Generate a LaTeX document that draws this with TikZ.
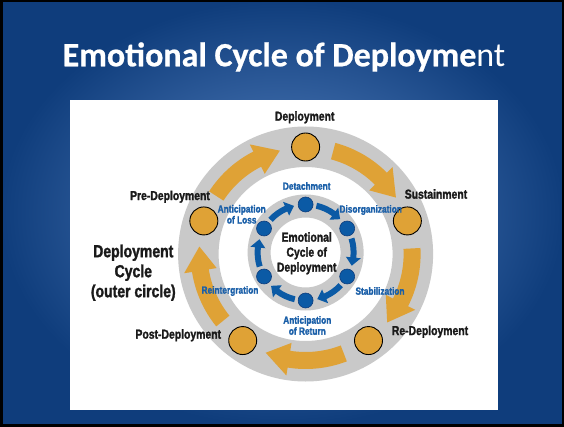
\documentclass[tikz,border=0pt]{standalone}
\usepackage{fontspec}
\setmainfont{Liberation Sans}
\newfontfamily\cond[FakeStretch=0.8,BoldFeatures={FakeBold=1.6}]{Liberation Sans}
\newfontfamily\titlefont[BoldFeatures={FakeBold=0.6}]{Carlito}
\definecolor{bgdark}{HTML}{0F3D7C}
\definecolor{bglight}{HTML}{5A86C4}
\definecolor{ringgray}{HTML}{C9C9C9}
\definecolor{orangefill}{HTML}{DFA236}
\definecolor{bluefill}{HTML}{0B5AA5}
\definecolor{bluetext}{HTML}{1A5FA8}
\definecolor{labelblack}{HTML}{1A1A1A}
\newcommand\bigarrow[1]{%
  \pgfmathsetmacro\aS{#1-15}\pgfmathsetmacro\aB{#1-45}\pgfmathsetmacro\aT{#1-58}%
  \fill[orangefill] (\aS:115pt) arc[start angle=\aS,end angle=\aB,radius=115pt]
    -- (\aB:123pt) -- (\aT:106.5pt) -- (\aB:90pt) -- (\aB:98pt)
    arc[start angle=\aB,end angle=\aS,radius=98pt] -- cycle;}
\newcommand\smallarrow[1]{%
  \pgfmathsetmacro\aS{#1-13}\pgfmathsetmacro\aB{#1-36}\pgfmathsetmacro\aT{#1-46}%
  \fill[bluefill] (\aS:51pt) arc[start angle=\aS,end angle=\aB,radius=51pt]
    -- (\aB:55.5pt) -- (\aT:48pt) -- (\aB:40.5pt) -- (\aB:45pt)
    arc[start angle=\aB,end angle=\aS,radius=45pt] -- cycle;}
\tikzset{
  phase/.style={circle,draw=black,line width=0.9pt,fill=orangefill,minimum size=28pt,inner sep=0pt},
  dot/.style={circle,draw=bgdark,line width=0.6pt,fill=bluefill,minimum size=15pt,inner sep=0pt},
  lab/.style={font=\cond\bfseries\fontsize{13}{15}\selectfont,text=labelblack,inner sep=0pt,align=center},
  bluelab/.style={font=\cond\bfseries\fontsize{10.4}{11}\selectfont,text=bluetext,inner sep=0pt,align=center},
  biglab/.style={font=\cond\bfseries\fontsize{17.5}{20}\selectfont,text=labelblack,inner sep=0pt,align=center},
  centerlab/.style={font=\cond\bfseries\fontsize{13}{15}\selectfont,text=labelblack,inner sep=0pt,align=center},
}
\begin{document}
\begin{tikzpicture}[x=1pt,y=1pt]
\useasboundingbox (0,0) rectangle (564,426);
\shade[inner color=bglight,outer color=bgdark] (0,0) rectangle (564,426);
\draw[black,line width=5pt] (0,0) rectangle (564,426);
\node[font=\titlefont\fontsize{34}{40}\selectfont,text=white,inner sep=0pt] (title) at (284,369)
  {\textbf{Emotional Cycle of Deployme}nt};
\fill[white] (70,16) rectangle (498,326);
\begin{scope}[shift={(305.6,172)}]
  \fill[ringgray,even odd rule] (0,0) circle[radius=127.5pt] (0,0) circle[radius=87pt];
  \foreach \a in {90,18,-54,-126,162} {\bigarrow{\a}}
  \node[phase] (dep) at (90:107pt) {};
  \node[phase] (sus) at (18:107pt) {};
  \node[phase] (redep) at (-54:107pt) {};
  \node[phase] (postdep) at (-126:107pt) {};
  \node[phase] (predep) at (162:107pt) {};
  \fill[ringgray,even odd rule] (0,1.5) circle[radius=58pt] (0,1.5) circle[radius=35pt];
  \begin{scope}[shift={(0,1.5)}]
  \foreach \a in {90,30,-30,-90,-150,150} {\smallarrow{\a}}
  \node[dot] (d1) at (90:48pt) {};
  \node[dot] (d2) at (30:48pt) {};
  \node[dot] (d3) at (-30:48pt) {};
  \node[dot] (d4) at (-90:48pt) {};
  \node[dot] (d5) at (-150:48pt) {};
  \node[dot] (d6) at (150:48pt) {};
  \end{scope}
\end{scope}
\node[lab] (ldep) at (304.7,308.7) {Deployment};
\node[lab] (lsus) at (436,232) {Sustainment};
\node[lab] (lredep) at (430,94.3) {Re-Deployment};
\node[lab] (lpostdep) at (178.3,90.7) {Post-Deployment};
\node[lab] (lpredep) at (170,229.3) {Pre-Deployment};
\node[biglab] (lcycle) at (133.3,153.3) {Deployment\\Cycle\\(outer circle)};
\node[centerlab] (lcenter) at (306.7,172.7) {Emotional\\Cycle of\\Deployment};
\node[bluelab] (b1) at (306.7,240) {Detachment};
\node[bluelab] (b2) at (370.7,216) {Disorganization};
\node[bluelab] (b3) at (380,135) {Stabilization};
\node[bluelab] (b4) at (307.3,100.5) {Anticipation\\of Return};
\node[bluelab] (b5) at (230,135) {Reintergration};
\node[bluelab] (b6) at (241.7,211.7) {Anticipation\\of Loss};
\end{tikzpicture}
\end{document}
